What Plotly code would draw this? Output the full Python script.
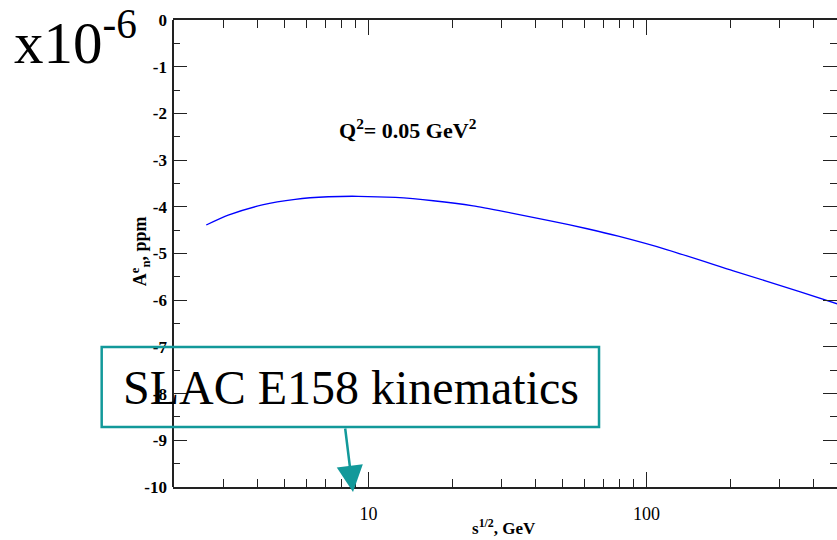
import plotly.graph_objects as go

# Beam-normal asymmetry vs. centre-of-mass energy at Q^2 = 0.05 GeV^2
sqrt_s = [2.61, 3.13, 4.15, 5.45, 7.17, 9.19, 12.5, 17.1, 23.8, 32.4,
          45.1, 61.2, 79.1, 118.8, 205.2, 357.4, 486.0]
asym_ppm = [-4.39, -4.18, -3.96, -3.84, -3.785, -3.775, -3.80, -3.87, -3.98, -4.13,
            -4.30, -4.47, -4.63, -4.92, -5.37, -5.82, -6.08]

x_major = [10, 100]
x_major_text = ["10", "100"]
x_minor = [3, 4, 5, 6, 7, 8, 9, 20, 30, 40, 50, 60, 70, 80, 90, 200, 300, 400]

y_major = [0, -1, -2, -3, -4, -5, -6, -7, -8, -9, -10]
y_major_text = ["0", "-1", "-2", "-3", "-4", "-5", "-6", "-7", "-8", "-9", "-10"]

SERIF = "Liberation Serif"
TEAL = "#12999A"

fig = go.Figure()
fig.add_trace(go.Scatter(
    x=sqrt_s, y=asym_ppm, mode="lines",
    line=dict(color="#0000FF", width=1.3, shape="spline", smoothing=0.6),
    showlegend=False, hoverinfo="skip",
))

fig.update_layout(
    width=837, height=540,
    margin=dict(l=173, r=0, t=20, b=53),
    paper_bgcolor="white", plot_bgcolor="white",
    font=dict(family=SERIF, color="black"),
    xaxis=dict(
        type="log", range=[0.297, 2.685],
        tickmode="array", tickvals=x_major, ticktext=x_major_text,
        ticks="inside", ticklen=15, tickwidth=1.3, tickcolor="#222",
        minor=dict(tickmode="array", tickvals=x_minor, ticks="inside",
                   ticklen=8, tickwidth=1.3, tickcolor="#222"),
        showline=True, linecolor="#222", linewidth=2, mirror="allticks",
        showgrid=False, zeroline=False,
        tickfont=dict(family=SERIF, size=18, color="black"),
        ticklabelstandoff=9,
    ),
    yaxis=dict(
        range=[-10, 0],
        tickmode="array", tickvals=y_major, ticktext=y_major_text,
        ticks="inside", ticklen=14, tickwidth=1.3, tickcolor="#222",
        minor=dict(dtick=0.5, ticks="inside", ticklen=7, tickwidth=1.3,
                   tickcolor="#222"),
        showline=False, mirror="allticks",
        showgrid=False, zeroline=False,
        tickfont=dict(family=SERIF, size=17, color="black", weight="bold"),
        ticklabelstandoff=5,
    ),
    shapes=[
        # left frame edge
        dict(type="line", xref="paper", yref="paper", x0=0, x1=0, y0=0, y1=1,
             line=dict(color="#222", width=2)),
        # callout box
        dict(type="rect", xref="paper", yref="paper",
             x0=-0.1074, x1=0.6416, y0=0.1285, y1=0.2998,
             line=dict(color=TEAL, width=2.5), fillcolor="rgba(0,0,0,0)"),
    ],
    annotations=[
        dict(text="x10<sup>-6</sup>", xref="paper", yref="paper",
             x=-0.243, y=1.046, xanchor="left", yanchor="top", showarrow=False,
             font=dict(family=SERIF, size=59, color="black")),
        dict(text="Q<sup>2</sup>= 0.05 GeV<sup>2</sup>", xref="paper", yref="paper",
             x=0.354, y=0.7666, xanchor="center", yanchor="middle", showarrow=False,
             font=dict(family=SERIF, size=22, color="black", weight="bold")),
        dict(text="s<sup>1/2</sup>, GeV", xref="paper", yref="paper",
             x=0.498, y=-0.085, xanchor="center", yanchor="middle", showarrow=False,
             font=dict(family=SERIF, size=17, color="black", weight="bold")),
        dict(text="A<sup>e</sup><sub>n</sub>, ppm", xref="paper", yref="paper",
             x=-0.0497, y=0.505, xanchor="center", yanchor="middle", showarrow=False,
             textangle=-90,
             font=dict(family=SERIF, size=18, color="black", weight="bold")),
        dict(text="SLAC E158 kinematics", xref="paper", yref="paper",
             x=0.2681, y=0.214, xanchor="center", yanchor="middle", showarrow=False,
             font=dict(family=SERIF, size=48, color="black")),
        dict(text="", xref="paper", yref="paper", x=0.2711, y=-0.0107,
             showarrow=True, ax=-8, ay=-65, arrowhead=2, arrowsize=2.1,
             arrowwidth=2.5, arrowcolor=TEAL, standoff=0),
    ],
)

fig.write_html("out.html")
